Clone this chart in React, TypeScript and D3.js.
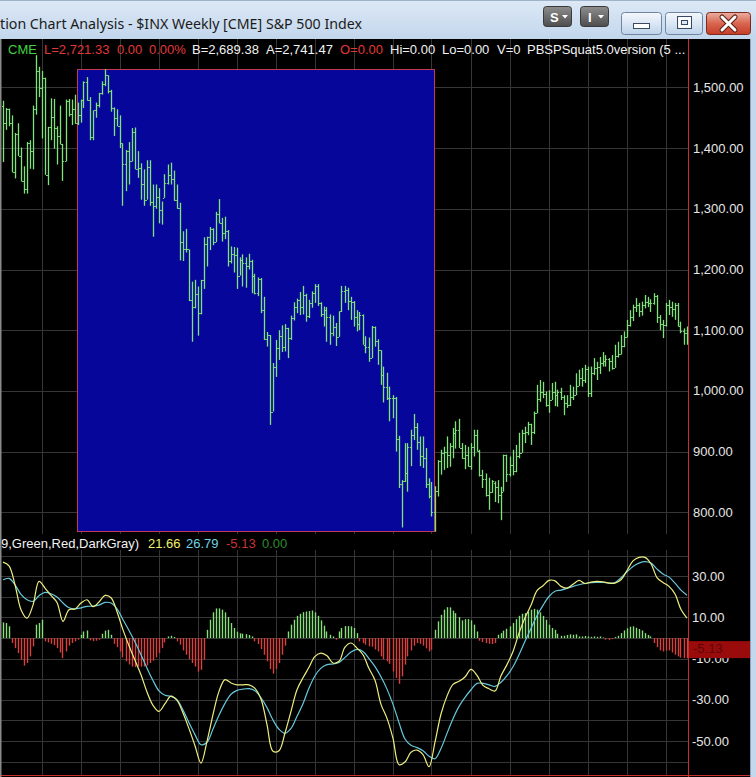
import React from "react";
import * as d3 from "d3";

// ---------- weekly S&P 500 bars (Jan 2000 - May 2004) ----------
const barOpen = [
  1469,1441,1465,1441,1360,1424,1387,1346,1333,1409,
  1395,1464,1527,1499,1516,1356,1434,1452,1433,1420,
  1406,1378,1477,1456,1464,1441,1455,1479,1509,1480,
  1419,1462,1471,1491,1506,1520,1494,1466,1449,1436,
  1408,1374,1396,1379,1426,1365,1367,1341,1315,1369,
  1312,1305,1320,1298,1318,1342,1355,1349,1315,1301,
  1245,1234,1233,1150,1139,1160,1128,1183,1242,1253,
  1266,1245,1291,1277,1260,1264,1214,1225,1224,1190,
  1215,1210,1205,1214,1190,1161,1185,1133,1085,1092,
  966,1040,1071,1091,1073,1104,1087,1120,1138,1150,
  1139,1158,1123,1144,1161,1173,1145,1127,1133,1122,
  1096,1105,1089,1131,1164,1166,1148,1147,1122,1111,
  1125,1076,1073,1054,1106,1083,1067,1027,1007,989,
  989,989,921,847,852,864,908,928,940,916,
  893,889,846,827,800,835,884,897,900,894,
  909,930,936,906,889,895,876,908,927,901,
  861,855,829,834,848,841,828,834,895,863,
  878,868,893,898,930,933,946,933,963,987,
  998,995,976,985,998,993,998,990,980,977,
  990,993,1008,1021,1018,1036,996,1029,1038,1039,
  1046,1050,1053,1050,1038,1058,1061,1074,1089,1108,
  1122,1139,1141,1131,1142,1146,1144,1145,1156,1121,
  1110,1109,1141,1139,1135,1141,1107,1098,1095,
];
const barHigh = [
  1478,1466,1465,1454,1425,1441,1401,1370,1410,1413,
  1470,1553,1534,1527,1516,1435,1482,1481,1436,1470,
  1407,1480,1481,1480,1488,1475,1480,1510,1517,1484,
  1462,1475,1491,1510,1530,1520,1496,1467,1464,1454,
  1408,1397,1410,1433,1434,1395,1375,1365,1380,1380,
  1340,1340,1334,1312,1357,1373,1376,1363,1340,1310,
  1263,1267,1233,1180,1183,1172,1183,1253,1254,1270,
  1268,1295,1316,1285,1287,1265,1238,1237,1236,1220,
  1225,1220,1226,1216,1193,1187,1186,1155,1097,1092,
  1046,1084,1100,1108,1110,1104,1124,1146,1152,1163,
  1173,1160,1150,1164,1176,1176,1146,1139,1138,1126,
  1124,1112,1131,1173,1173,1170,1155,1148,1133,1130,
  1126,1090,1088,1107,1106,1085,1067,1040,1030,1007,
  993,990,926,853,914,914,936,962,947,925,
  925,906,856,850,843,886,903,908,925,914,
  939,950,954,914,911,908,914,936,936,903,
  870,864,857,853,851,853,842,895,895,892,
  903,911,931,936,941,949,946,966,1010,1018,
  1015,999,1001,1013,1015,1002,1005,993,993,1010,
  1007,1029,1035,1038,1043,1040,1040,1054,1048,1056,
  1064,1059,1054,1059,1076,1081,1092,1098,1117,1133,
  1142,1153,1145,1147,1158,1155,1151,1161,1158,1125,
  1117,1145,1150,1147,1145,1145,1114,1103,1106,
];
const barLow = [
  1377,1430,1436,1360,1350,1387,1345,1325,1325,1366,
  1365,1455,1484,1416,1356,1339,1413,1399,1373,1406,
  1346,1378,1452,1438,1440,1438,1442,1466,1478,1413,
  1413,1450,1467,1488,1502,1490,1460,1420,1436,1400,
  1305,1329,1340,1378,1365,1351,1315,1305,1315,1305,
  1254,1300,1276,1274,1318,1340,1340,1313,1300,1215,
  1214,1228,1148,1081,1136,1091,1126,1168,1205,1232,
  1240,1245,1276,1246,1250,1205,1210,1195,1168,1190,
  1172,1170,1200,1161,1159,1156,1128,1084,1073,944,
  966,1023,1051,1064,1065,1054,1084,1116,1128,1125,
  1126,1114,1120,1137,1145,1140,1122,1106,1081,1076,
  1090,1074,1089,1130,1145,1133,1117,1106,1098,1100,
  1076,1062,1048,1054,1073,1043,1010,981,985,950,
  955,900,840,775,850,834,876,919,903,876,
  873,840,823,793,768,826,862,870,873,875,
  889,905,906,888,871,875,870,892,900,859,
  840,826,804,832,817,815,787,834,850,859,
  861,866,889,898,914,927,911,929,963,982,
  988,974,964,985,975,974,985,960,972,975,
  985,993,1008,1007,1013,990,990,1026,1018,1028,
  1040,1040,1032,1035,1038,1055,1060,1072,1088,1106,
  1115,1130,1122,1124,1136,1138,1130,1142,1112,1100,
  1087,1106,1125,1122,1117,1106,1095,1076,1076,
];
const barClose = [
  1441,1465,1441,1360,1424,1387,1346,1333,1409,1395,
  1464,1527,1499,1516,1356,1434,1452,1433,1420,1406,
  1378,1477,1456,1464,1441,1455,1479,1509,1480,1419,
  1462,1471,1491,1506,1520,1494,1466,1449,1436,1408,
  1374,1396,1379,1426,1365,1367,1341,1315,1369,1312,
  1305,1320,1298,1318,1342,1355,1349,1315,1301,1245,
  1234,1233,1150,1139,1160,1128,1183,1242,1253,1266,
  1245,1291,1277,1260,1264,1214,1225,1224,1190,1215,
  1210,1205,1214,1190,1161,1185,1133,1085,1092,966,
  1040,1071,1091,1073,1104,1087,1120,1138,1150,1139,
  1158,1123,1144,1161,1173,1145,1127,1133,1122,1096,
  1105,1089,1131,1164,1166,1148,1147,1122,1111,1125,
  1076,1073,1054,1106,1083,1067,1027,1007,989,989,
  989,921,847,852,864,908,928,940,916,893,
  889,846,827,800,835,884,897,900,894,909,
  930,936,906,889,895,876,908,927,901,861,
  855,829,834,851,841,828,833,895,863,878,
  868,893,898,930,933,946,933,963,987,998,
  995,976,985,998,993,998,990,980,977,990,
  993,1008,1021,1018,1036,996,1029,1038,1039,1046,
  1050,1053,1050,1038,1058,1061,1074,1089,1108,1122,
  1139,1141,1131,1142,1146,1144,1145,1156,1121,1110,
  1109,1141,1139,1135,1141,1107,1098,1095,1094,
];

// ---------- MACD-style indicator (lines sampled every 2nd bar) ----------
const macdFast = [
  36.9,35.1,25.9,13.8,9.7,16.0,27.5,24.3,20.7,17.3,
  8.1,13.8,14.1,17.0,18.6,15.2,17.5,20.7,19.6,12.8,
  4.0,-3.7,-10.8,-17.8,-26.2,-32.7,-35.6,-31.9,-28.2,-30.3,
  -36.4,-44.0,-52.3,-60.7,-50.2,-37.2,-25.9,-20.2,-21.8,-22.7,
  -22.7,-22.7,-24.4,-29.6,-42.1,-55.0,-54.7,-46.1,-35.6,-25.1,
  -19.3,-14.2,-8.9,-7.3,-8.6,-12.1,-11.3,-4.4,-2.4,-4.9,
  -8.1,-14.8,-20.5,-32.2,-39.0,-48.7,-61.5,-60.2,-55.5,-54.4,
  -56.6,-62.5,-50.5,-36.9,-28.2,-22.5,-21.0,-18.9,-15.2,-18.1,
  -23.0,-24.6,-25.7,-18.3,-12.9,-6.5,2.4,9.9,15.9,23.0,
  25.4,28.0,27.8,25.1,24.3,26.1,28.0,26.5,27.2,27.5,
  27.3,26.7,26.7,28.3,32.8,37.5,39.2,39.2,36.1,29.4,
  27.0,25.1,21.4,13.9,9.7,
];
const macdSlow = [
  28.3,29.0,25.9,21.2,18.6,17.8,20.6,22.2,21.5,19.9,
  17.0,14.7,14.2,14.7,15.4,15.5,16.0,17.3,17.0,14.2,
  8.9,3.7,-1.9,-8.1,-14.6,-20.6,-25.7,-27.8,-28.3,-29.9,
  -35.0,-41.1,-46.9,-51.8,-50.6,-44.2,-37.5,-31.7,-27.3,-25.4,
  -24.8,-24.6,-25.6,-29.1,-33.8,-39.8,-44.3,-46.3,-43.9,-38.0,
  -31.9,-24.3,-18.3,-14.6,-12.9,-12.6,-11.8,-9.4,-6.8,-5.5,
  -6.5,-10.0,-13.9,-18.8,-24.8,-32.2,-41.1,-49.0,-52.1,-53.2,
  -54.7,-57.4,-58.6,-53.6,-46.3,-39.2,-33.2,-28.8,-25.1,-22.0,
  -22.0,-22.7,-23.5,-21.5,-18.3,-13.9,-8.1,-1.6,4.7,10.8,
  15.9,20.2,22.7,23.3,24.1,25.1,25.9,26.5,26.9,27.0,
  27.0,26.7,27.0,29.3,32.2,34.8,36.4,37.1,36.4,33.5,
  31.1,29.6,26.7,23.3,20.8,
];
const macdHist = [
  7.6,7.3,5.7,-2.4,-4.9,-7.3,-10.5,-13.4,-12.1,-8.9,
  -4.0,6.5,7.3,8.9,-1.6,-2.1,-2.8,-3.4,-4.9,-7.0,
  -9.7,-6.5,-3.7,-2.4,-1.6,-0.8,1.6,3.2,3.7,-1.1,
  -1.5,-1.3,-0.8,2.1,3.6,4.0,1.6,-2.8,-4.4,-6.5,
  -9.4,-11.3,-12.8,-13.8,-14.1,-13.8,-13.9,-13.8,-13.3,-12.1,
  -11.0,-9.4,-7.3,-4.9,-2.1,0.8,1.1,0.5,-1.6,-3.2,
  -6.0,-8.1,-10.2,-12.1,-13.8,-16.3,-15.4,-10.5,4.0,8.9,
  12.5,14.4,14.4,13.8,12.5,10.2,7.3,4.9,3.1,2.3,
  2.1,1.9,1.5,0.8,-1.6,-2.9,-5.3,-8.1,-11.3,-15.0,
  -17.3,-15.0,-12.1,-8.1,-3.7,3.2,6.5,8.9,10.8,11.8,
  12.6,12.9,13.1,13.4,12.5,10.8,8.6,6.0,3.2,1.6,
  0.8,-0.8,3.2,4.9,5.8,5.8,5.7,4.9,2.4,-1.6,
  -2.4,-3.2,-4.0,-4.2,-5.5,-6.5,-8.9,-10.2,-11.3,-12.5,
  -16.2,-19.4,-22.2,-18.6,-12.9,-8.9,-6.0,-3.7,-2.4,-2.8,
  -3.7,-5.0,-6.5,-5.7,4.0,8.1,11.3,13.8,15.0,14.9,
  13.3,12.1,10.2,8.6,9.2,9.2,8.6,6.5,3.2,-1.3,
  -1.9,-2.4,-2.8,-2.9,-2.4,1.6,2.4,3.6,4.5,5.7,
  7.3,9.2,10.8,11.8,12.1,12.9,13.8,14.2,13.8,12.5,
  10.8,8.9,6.5,4.9,4.0,2.1,1.1,1.1,1.5,1.8,
  1.6,1.8,0.8,0.8,1.0,0.8,0.6,0.8,0.6,0.8,
  0.3,-0.8,-1.0,-0.5,0.5,1.1,2.4,3.7,4.7,5.5,
  5.7,5.0,4.4,3.7,2.4,1.5,0.8,-2.4,-4.4,-6.0,
  -6.5,-6.1,-6.0,-7.0,-8.1,-8.9,-9.5,-9.7,-9.8,
];

const priceTicks = [800, 900, 1000, 1100, 1200, 1300, 1400, 1500];
const macdLabelTicks = [30, 10, -10, -30, -50];
const macdGridTicks = [40, 30, 20, 10, 0, -10, -20, -30, -40, -50, -60];
const quarterStarts = [13, 26, 39, 52, 65, 78, 91, 104, 117, 130, 143, 156, 169, 182, 195, 208, 221];
const zoneIdx = [24.83, 143.83];
const zonePrice = [1530.09, 768.63];
const histMarker = -5.13;

export default function App() {
  const W = 756;
  const H = 777;
  const n = barClose.length;
  const x = d3.scaleLinear().domain([0, n - 1]).range([3, 687]);
  const yP = d3.scaleLinear().domain([800, 1500]).range([512.3, 87.4]);
  const yM = d3.scaleLinear().domain([-50, 30]).range([741, 576.3]);
  const cx = (i: number) => Math.floor(x(i)) + 0.5;
  const loc = d3.formatLocale({ decimal: ".", thousands: ",", grouping: [3], currency: ["$", ""], minus: "-" });
  const fPrice = loc.format(",.2f");
  const fM = loc.format(".2f");

  const lineGen = d3
    .line<number>()
    .x((_, k) => x(k * 2))
    .y((d) => yM(d))
    .curve(d3.curveCatmullRom.alpha(0.5));

  const axisX = 688.5;
  const sans = "'Liberation Sans', Arial, sans-serif";
  const ui = "'Segoe UI', 'Noto Sans', 'Open Sans', sans-serif";
  const barColor = "#7fe27a";
  const gridColor = "#363636";

  const zx0 = Math.floor(x(zoneIdx[0])) + 0.5;
  const zx1 = Math.floor(x(zoneIdx[1])) + 0.5;
  const zy0 = Math.round(yP(zonePrice[0])) + 0.5;
  const zy1 = Math.round(yP(zonePrice[1])) + 0.5;

  return (
    <svg
      width={W}
      height={H}
      viewBox={`0 0 ${W} ${H}`}
      style={{ position: "absolute", left: 0, top: 0, display: "block", background: "#000" }}
    >
      <defs>
        <linearGradient id="tb" x1="0" y1="0" x2="0" y2="1">
          <stop offset="0" stopColor="#dde9f6" />
          <stop offset="1" stopColor="#c2d6ec" />
        </linearGradient>
        <linearGradient id="dk" x1="0" y1="0" x2="0" y2="1">
          <stop offset="0" stopColor="#8e8e8e" />
          <stop offset="1" stopColor="#4c4c4c" />
        </linearGradient>
        <linearGradient id="lb" x1="0" y1="0" x2="0" y2="1">
          <stop offset="0" stopColor="#f4f8fc" />
          <stop offset="0.5" stopColor="#dbe7f4" />
          <stop offset="1" stopColor="#bcd2ea" />
        </linearGradient>
        <linearGradient id="rd" x1="0" y1="0" x2="0" y2="1">
          <stop offset="0" stopColor="#eab0a2" />
          <stop offset="0.5" stopColor="#d9654f" />
          <stop offset="1" stopColor="#c43d28" />
        </linearGradient>
        <clipPath id="pricePane">
          <rect x={0} y={39} width={688} height={495} />
        </clipPath>
        <clipPath id="macdPane">
          <rect x={0} y={535} width={688} height={240} />
        </clipPath>
      </defs>

      {/* chart background */}
      <rect x={0} y={0} width={W} height={H} fill="#000" />

      {/* ---------- price pane ---------- */}
      <g clipPath="url(#pricePane)">
        {priceTicks.map((t) => (
          <line key={"pg" + t} x1={0} x2={688} y1={Math.round(yP(t)) + 0.5} y2={Math.round(yP(t)) + 0.5} stroke={gridColor} />
        ))}
        {quarterStarts.map((q) => (
          <line key={"pv" + q} x1={cx(q)} x2={cx(q)} y1={39} y2={534} stroke={gridColor} />
        ))}
        <rect x={zx0} y={zy0} width={zx1 - zx0} height={zy1 - zy0} fill="#06069a" stroke="#c23a56" strokeWidth={1} />
        {barClose.map((c, i) => {
          const bx = cx(i);
          return (
            <g key={"b" + i}>
              <line x1={bx} x2={bx} y1={yP(barHigh[i])} y2={yP(barLow[i])} stroke={barColor} strokeWidth={1.3} />
              <rect x={bx - 1.6} y={Math.round(yP(barOpen[i]))} width={1} height={1} fill={barColor} />
              <rect x={bx + 0.6} y={Math.round(yP(c))} width={1} height={1} fill={barColor} />
            </g>
          );
        })}
      </g>

      {/* header row of price pane */}
      <g fontFamily={sans} fontSize={13}>
        <text x={8} y={54} fill="#3fd23f">CME</text>
        <text x={44} y={54} fill="#e0393a">L=2,721.33</text>
        <text x={117} y={54} fill="#e0393a">0.00</text>
        <text x={149} y={54} fill="#e0393a">0.00%</text>
        <text x={192} y={54} fill="#f2f2f2">B=2,689.38</text>
        <text x={266} y={54} fill="#f2f2f2">A=2,741.47</text>
        <text x={340} y={54} fill="#e0393a">O=0.00</text>
        <text x={390} y={54} fill="#f2f2f2">Hi=0.00</text>
        <text x={442} y={54} fill="#f2f2f2">Lo=0.00</text>
        <text x={497} y={54} fill="#f2f2f2">V=0</text>
        <text x={527} y={54} fill="#f2f2f2">PBSPSquat5.0version (5 ...</text>
      </g>

      {/* price axis labels */}
      <g fontFamily={sans} fontSize={13} fill="#e6e6e6">
        {priceTicks.map((t) => (
          <text key={"pl" + t} x={693} y={yP(t) + 4.5}>
            {fPrice(t)}
          </text>
        ))}
      </g>

      {/* ---------- MACD pane ---------- */}
      <g clipPath="url(#macdPane)">
        {macdGridTicks.map((t) => (
          <line key={"mg" + t} x1={0} x2={688} y1={Math.round(yM(t)) + 0.5} y2={Math.round(yM(t)) + 0.5} stroke={gridColor} />
        ))}
        {quarterStarts.map((q) => (
          <line key={"mv" + q} x1={cx(q)} x2={cx(q)} y1={550} y2={775} stroke={gridColor} />
        ))}
        {macdHist.map((v, i) => (
          <line
            key={"h" + i}
            x1={cx(i)}
            x2={cx(i)}
            y1={yM(0)}
            y2={yM(v)}
            stroke={v >= 0 ? "#86e07a" : "#d8413f"}
            strokeWidth={1.4}
          />
        ))}
        <path d={lineGen(macdSlow) || ""} fill="none" stroke="#66c8dc" strokeWidth={1.2} />
        <path d={lineGen(macdFast) || ""} fill="none" stroke="#eeee80" strokeWidth={1.2} />
      </g>

      {/* MACD header */}
      <g fontFamily={sans} fontSize={13}>
        <text x={1} y={548} fill="#f2f2f2">9,Green,Red,DarkGray)</text>
        <text x={148} y={548} fill="#f0f06a">21.66</text>
        <text x={186} y={548} fill="#70d4e4">26.79</text>
        <text x={226} y={548} fill="#c83434">-5.13</text>
        <text x={262} y={548} fill="#2f8a2f">0.00</text>
      </g>

      {/* MACD axis labels */}
      <g fontFamily={sans} fontSize={13} fill="#e6e6e6">
        {macdLabelTicks.map((t) => (
          <text key={"ml" + t} x={692} y={yM(t) + 4.5}>
            {fM(t)}
          </text>
        ))}
      </g>
      {/* last histogram value marker (partly covers the -10.00 label, as in the original) */}
      <rect x={689} y={yM(histMarker) - 7.5} width={61} height={17} fill="#9a0c0c" />
      <text x={693} y={yM(histMarker) + 4.5} fontFamily={sans} fontSize={13} fill="#5e0404">
        {fM(histMarker)}
      </text>

      {/* axis & frame lines */}
      <line x1={axisX} x2={axisX} y1={39} y2={777} stroke="#c7302e" strokeWidth={1} />
      <line x1={0} x2={750} y1={775.5} y2={775.5} stroke="#c7302e" strokeWidth={1} />
      <rect x={0} y={39} width={1.5} height={738} fill="#8a8a8a" />
      <rect x={750} y={0} width={6} height={H} fill="#c3d7ed" />
      <line x1={750.5} x2={750.5} y1={39} y2={H} stroke="#8ea4be" />

      {/* ---------- title bar ---------- */}
      <rect x={0} y={0} width={W} height={39} fill="url(#tb)" />
      <line x1={0} x2={W} y1={0.5} y2={0.5} stroke="#9fb3c9" />
      <text
        x={0}
        y={29}
        fontFamily={ui}
        fontSize={15}
        fill="#1b1b1b"
        textLength={362}
        lengthAdjust="spacingAndGlyphs"
      >
        tion Chart Analysis - $INX Weekly [CME] S&amp;P 500 Index
      </text>

      {/* S / I buttons */}
      <rect x={543.5} y={6.5} width={28} height={20} rx={3} fill="url(#dk)" stroke="#3a3a3a" />
      <text x={550} y={22} fontFamily={sans} fontSize={13} fontWeight="bold" fill="#ffffff">S</text>
      <path d="M562,15 L568,15 L565,18.5 Z" fill="#ffffff" />
      <rect x={580.5} y={6.5} width={28} height={20} rx={3} fill="url(#dk)" stroke="#3a3a3a" />
      <text x={588} y={22} fontFamily={sans} fontSize={13} fontWeight="bold" fill="#ffffff">I</text>
      <path d="M598,15 L604,15 L601,18.5 Z" fill="#ffffff" />

      {/* minimize */}
      <rect x={621.5} y={12.5} width={40} height={22} rx={3} fill="url(#lb)" stroke="#6f84a0" />
      <rect x={633.5} y={23.5} width={16} height={5} fill="#ffffff" stroke="#3a4a62" />
      {/* maximize */}
      <rect x={665.5} y={12.5} width={37} height={22} rx={3} fill="url(#lb)" stroke="#6f84a0" />
      <rect x={677.5} y={16.5} width={14} height={12} fill="none" stroke="#3a4a62" />
      <rect x={679.5} y={18.5} width={10} height={8} fill="none" stroke="#ffffff" strokeWidth={2.4} />
      <rect x={681.5} y={20.5} width={6} height={4} fill="none" stroke="#3a4a62" />
      {/* close */}
      <rect x={706.5} y={12.5} width={44} height={22} rx={3} fill="url(#rd)" stroke="#7d2a1e" />
      <path d="M722,17 L735,30 M735,17 L722,30" stroke="#5a1c12" strokeWidth={5} strokeLinecap="round" />
      <path d="M722,17 L735,30 M735,17 L722,30" stroke="#ffffff" strokeWidth={3} strokeLinecap="round" />
    </svg>
  );
}
